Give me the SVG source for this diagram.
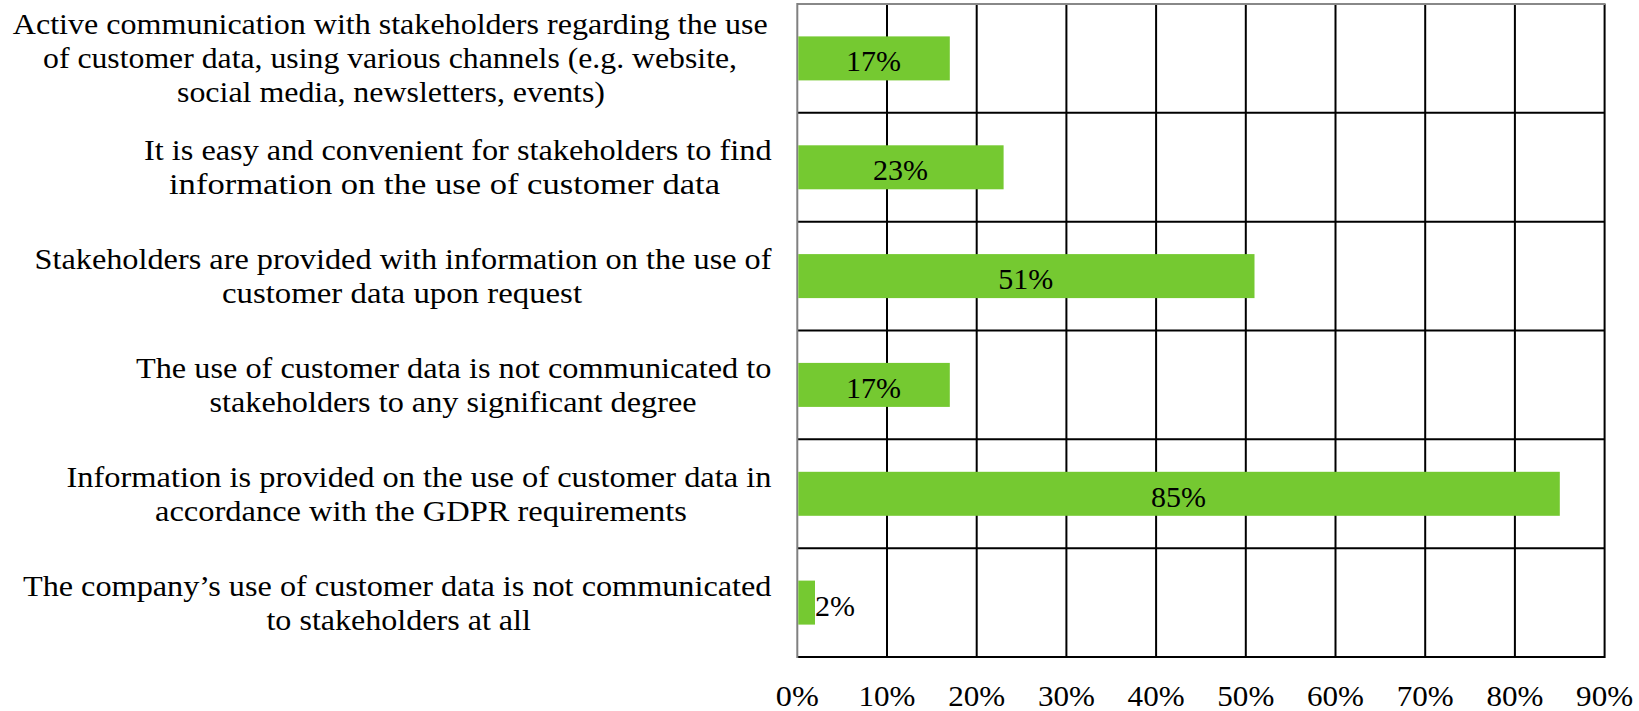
<svg xmlns="http://www.w3.org/2000/svg" width="1639" height="711" viewBox="0 0 1639 711">
<style>
.lbl{font-family:"Liberation Serif","Times New Roman",serif;font-size:29px;fill:#000;text-anchor:middle}
.val{font-family:"Liberation Serif","Times New Roman",serif;font-size:30px;fill:#000;text-anchor:middle}
.tick{font-family:"Liberation Serif","Times New Roman",serif;font-size:30px;fill:#000;text-anchor:middle}
.grid{stroke:#000;stroke-width:2;fill:none}
.bar{fill:#75C931}
</style>
<rect width="1639" height="711" fill="#fff"/>
<g id="grid">
<line class="grid" x1="797.3" y1="112.8" x2="1605" y2="112.8"/>
<line class="grid" x1="797.3" y1="221.7" x2="1605" y2="221.7"/>
<line class="grid" x1="797.3" y1="330.5" x2="1605" y2="330.5"/>
<line class="grid" x1="797.3" y1="439.3" x2="1605" y2="439.3"/>
<line class="grid" x1="797.3" y1="548.2" x2="1605" y2="548.2"/>
<line class="grid" x1="797.3" y1="657" x2="1605" y2="657"/>
<line class="grid" x1="887" y1="4" x2="887" y2="657"/>
<line class="grid" x1="976.7" y1="4" x2="976.7" y2="657"/>
<line class="grid" x1="1066.4" y1="4" x2="1066.4" y2="657"/>
<line class="grid" x1="1156.1" y1="4" x2="1156.1" y2="657"/>
<line class="grid" x1="1245.8" y1="4" x2="1245.8" y2="657"/>
<line class="grid" x1="1335.5" y1="4" x2="1335.5" y2="657"/>
<line class="grid" x1="1425.2" y1="4" x2="1425.2" y2="657"/>
<line class="grid" x1="1514.9" y1="4" x2="1514.9" y2="657"/>
<line class="grid" x1="1604.6" y1="4" x2="1604.6" y2="658"/>
<line x1="797.3" y1="4" x2="1605.6" y2="4" stroke="#888" stroke-width="2"/>
<line x1="797.3" y1="3" x2="797.3" y2="658" stroke="#808080" stroke-width="2"/>
</g>
<g id="bars">
<rect class="bar" x="798.3" y="36.4" width="151.5" height="44"/>
<rect class="bar" x="798.3" y="145.3" width="205.3" height="44"/>
<rect class="bar" x="798.3" y="254.1" width="456.2" height="44"/>
<rect class="bar" x="798.3" y="362.9" width="151.5" height="44"/>
<rect class="bar" x="798.3" y="471.8" width="761.5" height="44"/>
<rect class="bar" x="798.3" y="580.6" width="16.7" height="44"/>
</g>
<g id="values">
<text class="val" x="873.5" y="71.4">17%</text>
<text class="val" x="900.5" y="180.3">23%</text>
<text class="val" x="1025.8" y="289.1">51%</text>
<text class="val" x="873.5" y="397.9">17%</text>
<text class="val" x="1178.5" y="506.8">85%</text>
<text class="val" x="835" y="615.6">2%</text>
</g>
<g id="labels">
<g id="label1">
<text class="lbl" x="390.3" y="33.5" textLength="755" lengthAdjust="spacingAndGlyphs">Active communication with stakeholders regarding the use</text>
<text class="lbl" x="390" y="67.5" textLength="694" lengthAdjust="spacingAndGlyphs">of customer data, using various channels (e.g. website,</text>
<text class="lbl" x="391" y="101.5" textLength="428" lengthAdjust="spacingAndGlyphs">social media, newsletters, events)</text>
</g>
<g id="label2">
<text class="lbl" x="457.8" y="160.3" textLength="627.5" lengthAdjust="spacingAndGlyphs">It is easy and convenient for stakeholders to find</text>
<text class="lbl" x="444.5" y="194.3" textLength="551" lengthAdjust="spacingAndGlyphs">information on the use of customer data</text>
</g>
<g id="label3">
<text class="lbl" x="403" y="269.1" textLength="737" lengthAdjust="spacingAndGlyphs">Stakeholders are provided with information on the use of</text>
<text class="lbl" x="402" y="303.1" textLength="360" lengthAdjust="spacingAndGlyphs">customer data upon request</text>
</g>
<g id="label4">
<text class="lbl" x="453.7" y="377.9" textLength="635.5" lengthAdjust="spacingAndGlyphs">The use of customer data is not communicated to</text>
<text class="lbl" x="453" y="411.9" textLength="487" lengthAdjust="spacingAndGlyphs">stakeholders to any significant degree</text>
</g>
<g id="label5">
<text class="lbl" x="419" y="486.8" textLength="705" lengthAdjust="spacingAndGlyphs">Information is provided on the use of customer data in</text>
<text class="lbl" x="421" y="520.8" textLength="532" lengthAdjust="spacingAndGlyphs">accordance with the GDPR requirements</text>
</g>
<g id="label6">
<text class="lbl" x="397.2" y="595.6" textLength="748.5" lengthAdjust="spacingAndGlyphs">The company’s use of customer data is not communicated</text>
<text class="lbl" x="398.7" y="629.6" textLength="264.5" lengthAdjust="spacingAndGlyphs">to stakeholders at all</text>
</g>
</g>
<g id="ticks">
<text class="tick" x="797.3" y="706" textLength="43" lengthAdjust="spacingAndGlyphs">0%</text>
<text class="tick" x="887" y="706" textLength="57" lengthAdjust="spacingAndGlyphs">10%</text>
<text class="tick" x="976.7" y="706" textLength="57" lengthAdjust="spacingAndGlyphs">20%</text>
<text class="tick" x="1066.4" y="706" textLength="57" lengthAdjust="spacingAndGlyphs">30%</text>
<text class="tick" x="1156.1" y="706" textLength="57" lengthAdjust="spacingAndGlyphs">40%</text>
<text class="tick" x="1245.8" y="706" textLength="57" lengthAdjust="spacingAndGlyphs">50%</text>
<text class="tick" x="1335.5" y="706" textLength="57" lengthAdjust="spacingAndGlyphs">60%</text>
<text class="tick" x="1425.2" y="706" textLength="57" lengthAdjust="spacingAndGlyphs">70%</text>
<text class="tick" x="1514.9" y="706" textLength="57" lengthAdjust="spacingAndGlyphs">80%</text>
<text class="tick" x="1604.6" y="706" textLength="57" lengthAdjust="spacingAndGlyphs">90%</text>
</g>
</svg>
